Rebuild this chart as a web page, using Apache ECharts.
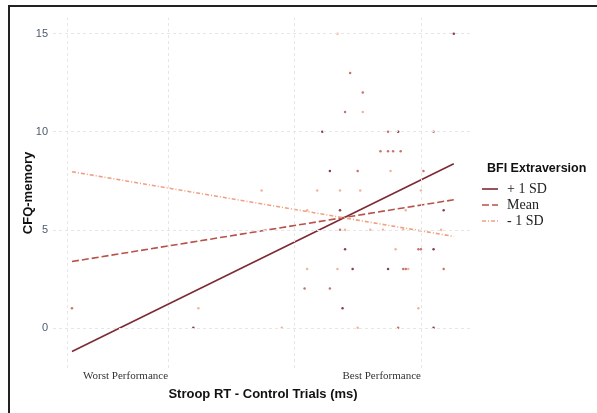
<!DOCTYPE html>
<html><head><meta charset="utf-8">
<script src="https://cdn.jsdelivr.net/npm/echarts@6/dist/echarts.min.js"></script>
<style>html,body{margin:0;padding:0;background:#fff}#c{width:597px;height:413px}</style>
</head><body><div id="c"></div>
<script>
// Tick labels
const xTickValues = [0, 1];
const xTickLabels = ['Worst Performance', 'Best Performance'];
const yTickValues = [0, 5, 10, 15];
const xGridValues = [-0.395, 0, 0.5, 1];
const groupNames = ['+ 1 SD', 'Mean', '- 1 SD'];
// Simple-slope lines [x, y]
const linePlus = [[-0.38, -1.21], [1.13, 8.37]];
const lineMean = [[-0.38, 3.38], [1.13, 6.53]];
const lineMinus = [[-0.38, 7.96], [1.13, 4.66]];
// Observed points by group [x, y]
const ptsPlus = [[1.13,15],[0.61,10],[0.91,10],[0.64,8],[0.68,6],[1.09,6],[0.70,4],[1.05,4],[0.73,3],[0.87,3],[0.69,1],[1.05,0],[0.10,0]];
const ptsMean = [[0.72,13],[0.77,12],[0.70,11],[0.87,10],[1.05,10],[0.84,9],[0.87,9],[0.89,9],[0.92,9],[0.75,8],[1.01,8],[0.68,5],[0.99,4],[1.00,4],[0.93,3],[0.94,3],[1.09,3],[0.64,2],[0.54,2],[0.91,0],[-0.38,1]];
const ptsMinus = [[0.67,15],[0.77,11],[0.88,8],[0.59,7],[0.68,7],[0.76,7],[1.00,7],[0.37,7],[0.55,6],[0.94,6],[0.70,5],[0.80,5],[0.85,5],[0.93,5],[1.08,5],[0.90,4],[0.55,3],[0.67,3],[0.95,3],[0.99,1],[0.75,0],[0.12,1],[0.45,0]];

const cPlus = '#7e2a35', cMean = '#b8514a', cMinus = '#f0a080';
const colors = [cPlus, cMean, cMinus];
const dashes = [null, [7, 3], [4, 2, 1, 2]];
const gridLine = {color: '#e6e6e6', width: 1, type: [3, 3]};

// legend keys (drawn as graphics)
const legendGraphics = [];
groupNames.forEach((name, i) => {
  const y = 189 + i * 16;
  legendGraphics.push({type: 'line', shape: {x1: 482, y1: y, x2: 498, y2: y},
    style: {stroke: colors[i], lineWidth: 1.6, lineDash: dashes[i]}, silent: true});
  legendGraphics.push({type: 'text', x: 507, y: y, silent: true,
    style: {text: name, font: '14px "Liberation Serif"', fill: '#222', verticalAlign: 'middle'}});
});

const chart = echarts.init(document.getElementById('c'));
chart.setOption({
  animation: false,
  backgroundColor: '#fff',
  grid: {left: 53, right: 124, top: 18, bottom: 45},
  xAxis: {
    type: 'value', min: -0.455, max: 1.206,
    axisLine: {show: false}, axisTick: {show: false}, splitLine: {show: false},
    axisLabel: {customValues: xTickValues, align: 'right', margin: 3,
      formatter: v => xTickLabels[xTickValues.indexOf(v)] || '',
      fontFamily: 'Liberation Serif', fontSize: 11, color: '#333'},
    name: 'Stroop RT - Control Trials (ms)', nameLocation: 'middle', nameGap: 20, nameMoveOverlap: false,
    nameTextStyle: {fontFamily: 'Liberation Sans', fontWeight: 'bold', fontSize: 13, color: '#111'}
  },
  yAxis: {
    type: 'value', min: -2.05, max: 15.8,
    axisLine: {show: false}, axisTick: {show: false}, splitLine: {show: false},
    axisLabel: {customValues: yTickValues, margin: 5, fontFamily: 'Liberation Sans', fontSize: 11, color: '#4d5a6e'},
    name: 'CFQ-memory', nameLocation: 'middle', nameGap: 18, nameRotate: 90, nameMoveOverlap: false,
    nameTextStyle: {fontFamily: 'Liberation Sans', fontWeight: 'bold', fontSize: 13, color: '#111'}
  },
  title: {text: 'BFI Extraversion', left: 482, top: 157,
    textStyle: {fontFamily: 'Liberation Sans', fontWeight: 'bold', fontSize: 12.5, color: '#111'}},
  graphic: [{type: 'rect', shape: {x: 9, y: 6, width: 700, height: 500},
    style: {fill: 'none', stroke: '#222', lineWidth: 2}, silent: true, z: 100}].concat(legendGraphics),
  series: [
    {type: 'line', data: [], silent: true, z: 0,
      markLine: {silent: true, symbol: 'none', label: {show: false}, lineStyle: gridLine,
        data: xGridValues.map(v => ({xAxis: v})).concat(yTickValues.map(v => ({yAxis: v})))}},
    {type: 'scatter', data: ptsMinus, symbolSize: 2.5, itemStyle: {color: cMinus, opacity: 0.8}, z: 2},
    {type: 'scatter', data: ptsMean, symbolSize: 2.5, itemStyle: {color: cMean, opacity: 0.8}, z: 2},
    {type: 'scatter', data: ptsPlus, symbolSize: 2.5, itemStyle: {color: cPlus, opacity: 0.9}, z: 2},
    {name: groupNames[0], type: 'line', data: linePlus, showSymbol: false, symbol: 'none', z: 3,
      lineStyle: {color: cPlus, width: 1.6, type: 'solid'}},
    {name: groupNames[1], type: 'line', data: lineMean, showSymbol: false, symbol: 'none', z: 3,
      lineStyle: {color: cMean, width: 1.6, type: dashes[1]}},
    {name: groupNames[2], type: 'line', data: lineMinus, showSymbol: false, symbol: 'none', z: 3,
      lineStyle: {color: cMinus, width: 1.6, type: dashes[2]}}
  ]
});
</script></body></html>
